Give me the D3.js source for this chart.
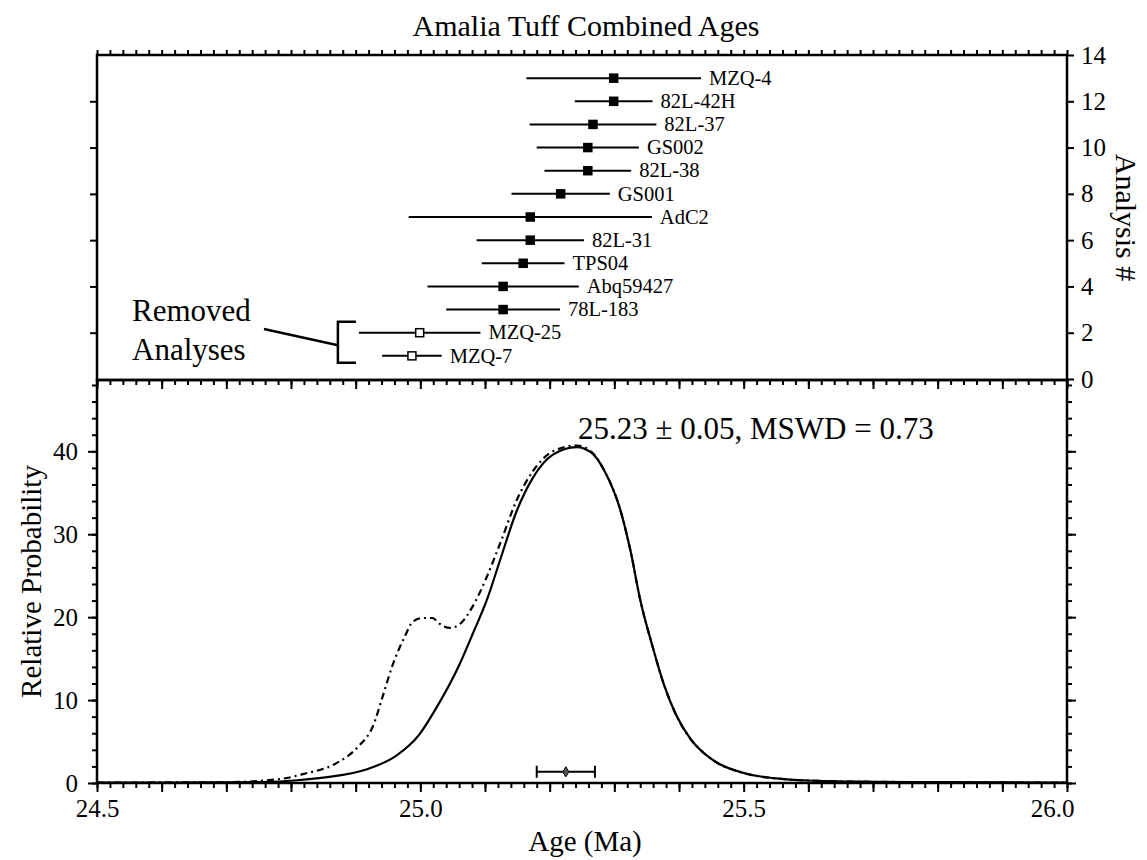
<!DOCTYPE html>
<html>
<head>
<meta charset="utf-8">
<script src="https://cdn.jsdelivr.net/npm/d3@7"></script>
<style>
  body { margin: 0; background: #fff; }
  svg text { font-family: "Liberation Serif", "Times New Roman", Times, serif; fill: #000; }
</style>
</head>
<body>
<div id="chart"></div>
<script>
// analyses, bottom (1) to top (13)
var names = ["MZQ-7", "MZQ-25", "78L-183", "Abq59427", "TPS04", "82L-31", "AdC2",
             "GS001", "82L-38", "GS002", "82L-37", "82L-42H", "MZQ-4"];
var ages = [24.987, 24.999, 25.128, 25.128, 25.159, 25.170, 25.170,
            25.217, 25.259, 25.259, 25.267, 25.299, 25.299];
var errs = [0.046, 0.094, 0.088, 0.117, 0.064, 0.083, 0.188,
            0.076, 0.067, 0.079, 0.098, 0.060, 0.135];
var removed = [true, true, false, false, false, false, false,
               false, false, false, false, false, false];

// probability curves
var solidAges = [24.50, 24.60, 24.70, 24.756, 24.81, 24.856, 24.915, 24.963, 24.998, 25.022,
                 25.060, 25.080, 25.103, 25.123, 25.149, 25.174, 25.205, 25.242, 25.265, 25.285,
                 25.309, 25.325, 25.340, 25.359, 25.377, 25.395, 25.418, 25.45, 25.50, 25.55,
                 25.60, 25.70, 25.80, 26.0];
var solidProb = [0.05, 0.05, 0.08, 0.12, 0.33, 0.7, 1.6, 3.3, 5.8, 8.7,
                 14.2, 17.8, 22.1, 26.8, 32.8, 36.8, 39.6, 40.5, 39.8, 37.6,
                 33.0, 28.0, 22.1, 16.5, 11.8, 8.3, 5.3, 2.9, 1.2, 0.55,
                 0.3, 0.15, 0.1, 0.05];

var dashAges = [24.50, 24.70, 24.785, 24.82, 24.868, 24.904, 24.927, 24.942, 24.957, 24.975,
                24.989, 25.004, 25.019, 25.028, 25.046, 25.063, 25.081, 25.103, 25.123, 25.149,
                25.174, 25.205, 25.242, 25.265, 25.285, 25.309, 25.325, 25.340, 25.359, 25.377,
                25.395, 25.418, 25.45, 25.50, 25.55, 25.60, 25.70, 25.80, 26.0];
var dashProb = [0.05, 0.1, 0.5, 1.1, 2.3, 4.4, 6.9, 10.5, 14.2, 17.5,
                19.5, 19.9, 19.9, 19.3, 18.7, 19.3, 21.3, 24.9, 28.8, 34.1,
                37.6, 40.0, 40.7, 39.9, 37.6, 33.0, 28.0, 22.1, 16.5, 11.8,
                8.3, 5.3, 2.9, 1.2, 0.55, 0.3, 0.15, 0.1, 0.05];

var meanAge = 25.225;
var meanErr = 0.045;
var meanLabel = "25.23 \u00b1 0.05, MSWD = 0.73";

var xLabels = [24.5, 25.0, 25.5, 26.0];

var svgWidth = 1147;
var svgHeight = 860;

var left = 97, right = 1067;
var topTop = 55, topBottom = 380, botBottom = 783;

var svg = d3.select("#chart").append("svg")
    .attr("width", svgWidth)
    .attr("height", svgHeight);

var x = d3.scaleLinear().domain([24.5, 26.0]).range([left, right]);
var yTop = d3.scaleLinear().domain([0, 14]).range([topBottom - 1, topTop]);
var yBot = d3.scaleLinear().domain([0, 48.6]).range([botBottom, topBottom]);

var minorX = d3.range(0, 76).map(function(i) { return +(24.5 + i * 0.02).toFixed(2); });
var majorX = d3.range(0, 16).map(function(i) { return +(24.5 + i * 0.1).toFixed(1); });

function styleAxis(g) {
  g.attr("font-family", null).attr("font-size", null);
  g.select(".domain").remove();
  g.selectAll(".tick line").attr("stroke", "#000").attr("stroke-width", 2);
  g.selectAll(".tick text").style("font-size", "25px");
}

// ---- top panel ----
svg.append("g").attr("transform", "translate(0," + topTop + ")")
    .call(d3.axisTop(x).tickValues(minorX).tickSize(5).tickFormat(""))
    .call(styleAxis);

svg.append("g").attr("transform", "translate(" + left + ",0)")
    .call(d3.axisLeft(yTop).tickValues([2, 4, 6, 8, 10, 12]).tickSize(7).tickFormat(""))
    .call(styleAxis);

svg.append("g").attr("transform", "translate(" + right + ",0)")
    .call(d3.axisRight(yTop).tickValues(d3.range(0, 15, 2)).tickSize(7).tickPadding(7))
    .call(styleAxis);

svg.append("rect")
    .attr("x", left).attr("y", topTop)
    .attr("width", right - left).attr("height", topBottom - topTop)
    .attr("fill", "none").attr("stroke", "#000").attr("stroke-width", 2.5);

var rows = svg.append("g").selectAll("g")
    .data(names.map(function(n, i) {
      return { name: n, age: ages[i], err: errs[i], removed: removed[i], n: i + 1 };
    }))
    .join("g");

rows.append("line")
    .attr("x1", function(d) { return x(d.age - d.err); })
    .attr("x2", function(d) { return x(d.age + d.err); })
    .attr("y1", function(d) { return yTop(d.n); })
    .attr("y2", function(d) { return yTop(d.n); })
    .attr("stroke", "#000").attr("stroke-width", 2);

rows.append("rect")
    .attr("x", function(d) { return x(d.age) - 4; })
    .attr("y", function(d) { return yTop(d.n) - 4; })
    .attr("width", 8).attr("height", 8)
    .attr("fill", function(d) { return d.removed ? "#fff" : "#000"; })
    .attr("stroke", "#000").attr("stroke-width", 1.5);

rows.append("text")
    .attr("x", function(d) { return x(d.age + d.err) + 8; })
    .attr("y", function(d) { return yTop(d.n); })
    .attr("dy", "0.33em")
    .style("font-size", "20.5px")
    .text(function(d) { return d.name; });

// bracket for removed analyses
var remLeft = d3.min(names.map(function(n, i) { return removed[i] ? ages[i] - errs[i] : 99; }));
var bx = x(remLeft) - 21;
var by1 = yTop(2) - 11, by2 = yTop(1) + 7;
svg.append("path")
    .attr("d", "M" + (bx + 18) + "," + by1 + "H" + bx + "V" + by2 + "H" + (bx + 18))
    .attr("fill", "none").attr("stroke", "#000").attr("stroke-width", 2.5);
svg.append("line")
    .attr("x1", 264).attr("y1", 329).attr("x2", bx).attr("y2", (by1 + by2) / 2 + 3)
    .attr("stroke", "#000").attr("stroke-width", 2.5);
svg.append("text").attr("x", 132).attr("y", 321).style("font-size", "31px").text("Removed");
svg.append("text").attr("x", 132).attr("y", 360).style("font-size", "31px").text("Analyses");

// ---- bottom panel ----
svg.append("g").attr("transform", "translate(0," + topBottom + ")")
    .call(d3.axisTop(x).tickValues(minorX).tickSize(-5).tickFormat(""))
    .call(styleAxis);
svg.append("g").attr("transform", "translate(0," + topBottom + ")")
    .call(d3.axisTop(x).tickValues(majorX).tickSize(-9).tickFormat(""))
    .call(styleAxis);

svg.append("g").attr("transform", "translate(0," + botBottom + ")")
    .call(d3.axisBottom(x).tickValues(minorX).tickSize(5).tickFormat(""))
    .call(styleAxis);
var xAxisG = svg.append("g").attr("transform", "translate(0," + botBottom + ")")
    .call(d3.axisBottom(x).tickValues(majorX).tickSize(9)
      .tickFormat(function(d) { return xLabels.indexOf(d) >= 0 ? d3.format(".1f")(d) : ""; })
      .tickPadding(7))
    .call(styleAxis);
// last label sits just inside the right edge
xAxisG.selectAll(".tick text").filter(function(d) { return d === 26.0; }).attr("dx", -15);

var minorY = d3.range(0, 49, 2);
var majorY = d3.range(0, 41, 10);

svg.append("g").attr("transform", "translate(" + left + ",0)")
    .call(d3.axisLeft(yBot).tickValues(minorY).tickSize(5).tickFormat(""))
    .call(styleAxis);
svg.append("g").attr("transform", "translate(" + left + ",0)")
    .call(d3.axisLeft(yBot).tickValues(majorY).tickSize(9).tickPadding(10))
    .call(styleAxis);
svg.append("g").attr("transform", "translate(" + right + ",0)")
    .call(d3.axisRight(yBot).tickValues(minorY).tickSize(5).tickFormat(""))
    .call(styleAxis);
svg.append("g").attr("transform", "translate(" + right + ",0)")
    .call(d3.axisRight(yBot).tickValues(majorY).tickSize(9).tickFormat(""))
    .call(styleAxis);

svg.append("rect")
    .attr("x", left).attr("y", topBottom)
    .attr("width", right - left).attr("height", botBottom - topBottom)
    .attr("fill", "none").attr("stroke", "#000").attr("stroke-width", 2.5);

var line = d3.line().curve(d3.curveMonotoneX)
    .x(function(d) { return x(d[0]); })
    .y(function(d) { return yBot(d[1]); });

svg.append("path")
    .datum(dashAges.map(function(a, i) { return [a, dashProb[i]]; }))
    .attr("d", line)
    .attr("fill", "none").attr("stroke", "#000").attr("stroke-width", 2.2)
    .attr("stroke-dasharray", "7,4,2,4");

svg.append("path")
    .datum(solidAges.map(function(a, i) { return [a, solidProb[i]]; }))
    .attr("d", line)
    .attr("fill", "none").attr("stroke", "#000").attr("stroke-width", 2.2);

// weighted mean bar
var my = yBot(1.35);
svg.append("path")
    .attr("d", "M" + x(meanAge - meanErr) + "," + (my - 6) + "V" + (my + 6) +
               "M" + x(meanAge - meanErr) + "," + my + "H" + x(meanAge + meanErr) +
               "M" + x(meanAge + meanErr) + "," + (my - 6) + "V" + (my + 6))
    .attr("fill", "none").attr("stroke", "#000").attr("stroke-width", 2);
svg.append("path")
    .attr("transform", "translate(" + x(meanAge) + "," + my + ")")
    .attr("d", d3.symbol(d3.symbolDiamond, 30)())
    .attr("fill", "#555").attr("stroke", "#000").attr("stroke-width", 1);

svg.append("text")
    .attr("x", 578).attr("y", 439)
    .style("font-size", "31px")
    .text(meanLabel);

// titles
svg.append("text")
    .attr("x", 586).attr("y", 36)
    .attr("text-anchor", "middle")
    .style("font-size", "30px")
    .text("Amalia Tuff Combined Ages");

svg.append("text")
    .attr("x", 585).attr("y", 851)
    .attr("text-anchor", "middle")
    .style("font-size", "29px")
    .text("Age (Ma)");

svg.append("text")
    .attr("transform", "translate(41," + ((topBottom + botBottom) / 2) + ") rotate(-90)")
    .attr("text-anchor", "middle")
    .style("font-size", "29px")
    .text("Relative Probability");

svg.append("text")
    .attr("transform", "translate(1116," + ((topTop + topBottom) / 2) + ") rotate(90)")
    .attr("text-anchor", "middle")
    .style("font-size", "30px")
    .text("Analysis #");

svg.selectAll("text").style("font-family", "'Liberation Serif', 'Times New Roman', serif");
</script>
</body>
</html>
